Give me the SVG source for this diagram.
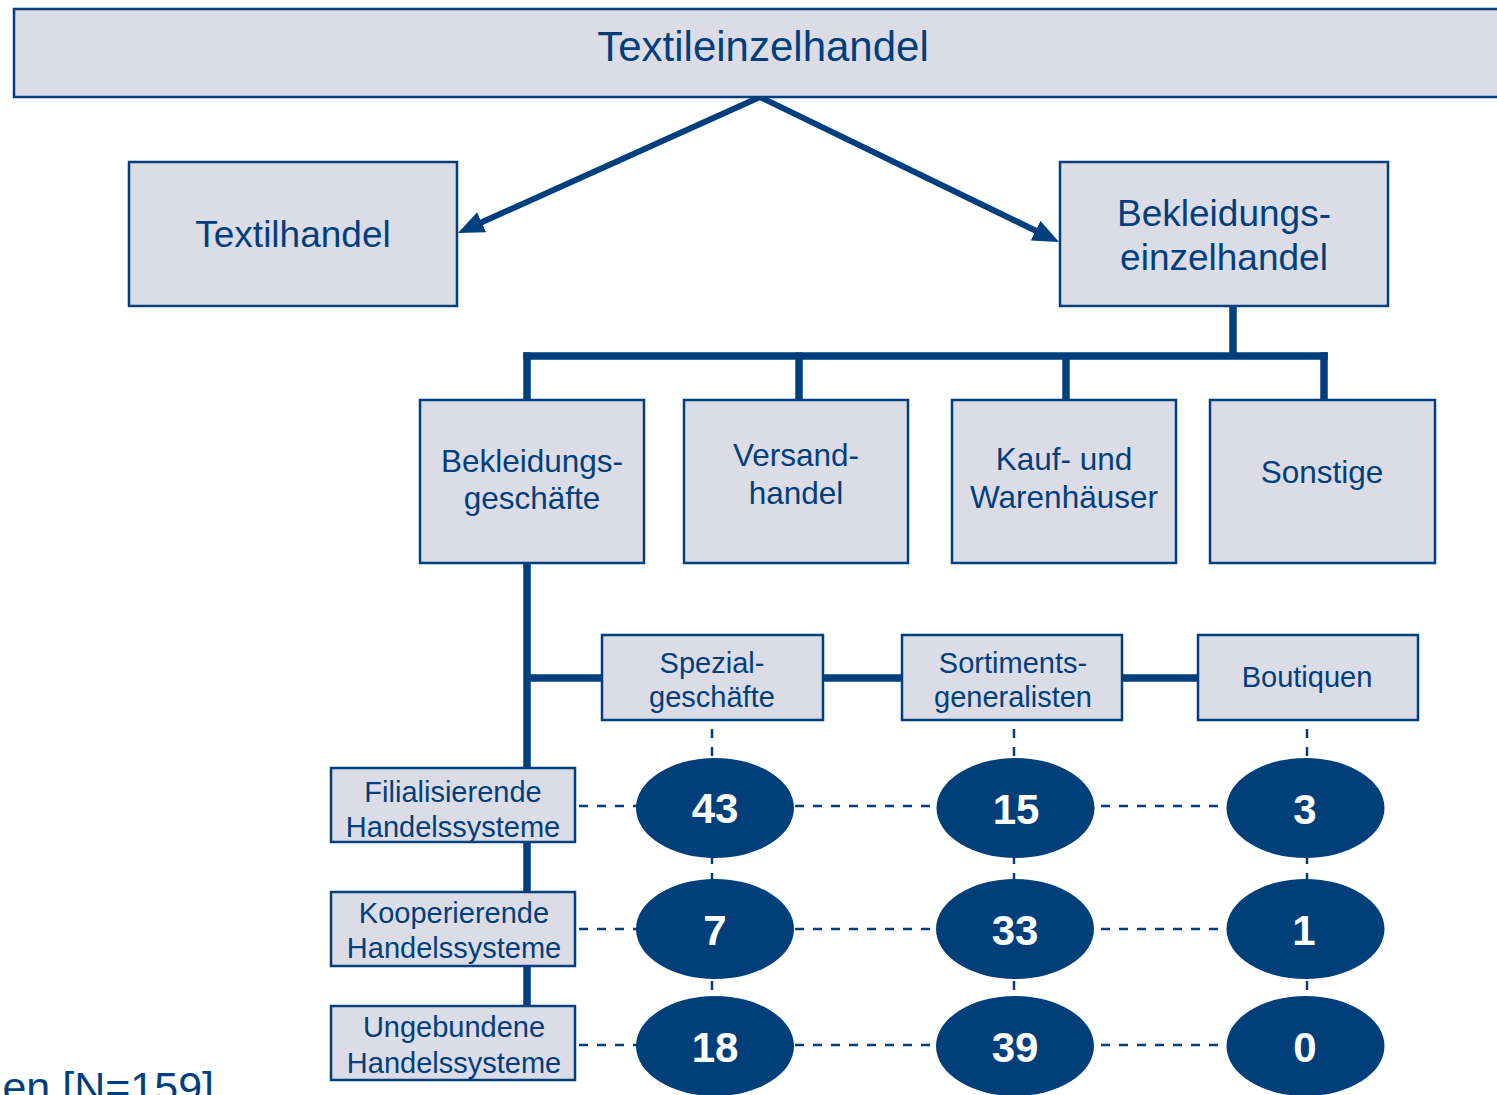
<svg xmlns="http://www.w3.org/2000/svg" width="1497" height="1095" viewBox="0 0 1497 1095">
<style>
.box{fill:#dcdce6;stroke:#003f7d;stroke-width:2.5}
.t{font-family:"Liberation Sans",Arial,sans-serif;fill:#003f7d;text-anchor:middle}
.t36{font-size:37px}
.t32{font-size:31.5px}
.t29{font-size:29px}
.num{font-family:"Liberation Sans",Arial,sans-serif;font-weight:bold;font-size:42px;fill:#ffffff;text-anchor:middle}
.ell{fill:#003f7a}
.thick{stroke:#003f7d;stroke-width:7.5;fill:none}
.arr{stroke:#003f7d;stroke-width:6;fill:none;marker-end:url(#ah)}
.dash{stroke:#003f7d;stroke-width:2.5;stroke-dasharray:9 9;fill:none}
</style>
<defs>
<marker id="ah" markerUnits="userSpaceOnUse" markerWidth="30" markerHeight="26" refX="6" refY="11" orient="auto">
<path d="M0,0 L26,11 L0,22 z" fill="#003f7d"/>
</marker>
</defs>
<rect width="1497" height="1095" fill="#ffffff"/>
<g id="connectors">
<line class="arr" x1="760" y1="97" x2="476.2" y2="224.8"/>
<line class="arr" x1="760" y1="97" x2="1041" y2="233.3"/>
<line class="thick" x1="1233" y1="306" x2="1233" y2="356"/>
<line class="thick" x1="523.3" y1="356" x2="1327.7" y2="356"/>
<line class="thick" x1="527" y1="352.3" x2="527" y2="400"/>
<line class="thick" x1="799" y1="352.3" x2="799" y2="400"/>
<line class="thick" x1="1066" y1="356" x2="1066" y2="400"/>
<line class="thick" x1="1324" y1="352.3" x2="1324" y2="400"/>
<line class="thick" x1="527" y1="563" x2="527" y2="1007"/>
<line class="thick" x1="527" y1="678" x2="602" y2="678"/>
<line class="thick" x1="823" y1="678" x2="902" y2="678"/>
<line class="thick" x1="1122" y1="678" x2="1198" y2="678"/>
<line class="dash" x1="712" y1="729" x2="712" y2="1046"/>
<line class="dash" x1="1014" y1="729" x2="1014" y2="1046"/>
<line class="dash" x1="1307" y1="729" x2="1307" y2="1046"/>
<line class="dash" x1="579" y1="806" x2="1228" y2="806"/>
<line class="dash" x1="579" y1="929" x2="1228" y2="929"/>
<line class="dash" x1="579" y1="1045" x2="1228" y2="1045"/>
</g>
<g id="n-textileinzelhandel">
<rect class="box" x="14" y="9" width="1500" height="88"/>
<text class="t" x="763" y="61" font-size="42">Textileinzelhandel</text>
</g>
<g id="n-textilhandel">
<rect class="box" x="129" y="162" width="328" height="144"/>
<text class="t t36" x="293" y="247">Textilhandel</text>
</g>
<g id="n-bekleidungseinzelhandel">
<rect class="box" x="1060" y="162" width="328" height="144"/>
<text class="t t36" x="1224" y="226">Bekleidungs-</text>
<text class="t t36" x="1224" y="270">einzelhandel</text>
</g>
<g id="n-bekleidungsgeschaefte">
<rect class="box" x="420" y="400" width="224" height="163"/>
<text class="t t32" x="532" y="472">Bekleidungs-</text>
<text class="t t32" x="532" y="509">geschäfte</text>
</g>
<g id="n-versandhandel">
<rect class="box" x="684" y="400" width="224" height="163"/>
<text class="t t32" x="796" y="466">Versand-</text>
<text class="t t32" x="796" y="504">handel</text>
</g>
<g id="n-kaufundwarenhaeuser">
<rect class="box" x="952" y="400" width="224" height="163"/>
<text class="t t32" x="1064" y="470">Kauf- und</text>
<text class="t t32" x="1064" y="508">Warenhäuser</text>
</g>
<g id="n-sonstige">
<rect class="box" x="1210" y="400" width="225" height="163"/>
<text class="t t32" x="1322" y="483">Sonstige</text>
</g>
<g id="n-spezialgeschaefte">
<rect class="box" x="602" y="635" width="221" height="85"/>
<text class="t t29" x="712" y="673">Spezial-</text>
<text class="t t29" x="712" y="707">geschäfte</text>
</g>
<g id="n-sortimentsgeneralisten">
<rect class="box" x="902" y="635" width="220" height="85"/>
<text class="t t29" x="1013" y="673">Sortiments-</text>
<text class="t t29" x="1013" y="707">generalisten</text>
</g>
<g id="n-boutiquen">
<rect class="box" x="1198" y="635" width="220" height="85"/>
<text class="t t29" x="1307" y="687">Boutiquen</text>
</g>
<g id="n-filialisierende">
<rect class="box" x="331" y="768" width="244" height="74"/>
<text class="t t29" x="453" y="802">Filialisierende</text>
<text class="t t29" x="453" y="837">Handelssysteme</text>
</g>
<g id="n-kooperierende">
<rect class="box" x="331" y="892" width="244" height="74"/>
<text class="t t29" x="454" y="923">Kooperierende</text>
<text class="t t29" x="454" y="958">Handelssysteme</text>
</g>
<g id="n-ungebundene">
<rect class="box" x="331" y="1006" width="244" height="74"/>
<text class="t t29" x="454" y="1037">Ungebundene</text>
<text class="t t29" x="454" y="1073">Handelssysteme</text>
</g>
<g id="n-v43"><ellipse class="ell" cx="715" cy="808" rx="79" ry="50"/><text class="num" x="715" y="823">43</text></g>
<g id="n-v15"><ellipse class="ell" cx="1015.5" cy="808" rx="79" ry="50"/><text class="num" x="1016" y="824">15</text></g>
<g id="n-v3"><ellipse class="ell" cx="1305.5" cy="808" rx="79" ry="50"/><text class="num" x="1305" y="824">3</text></g>
<g id="n-v7"><ellipse class="ell" cx="715" cy="929" rx="79" ry="50"/><text class="num" x="715" y="945">7</text></g>
<g id="n-v33"><ellipse class="ell" cx="1015" cy="929" rx="79" ry="50"/><text class="num" x="1015" y="945">33</text></g>
<g id="n-v1"><ellipse class="ell" cx="1305.5" cy="929" rx="79" ry="50"/><text class="num" x="1304" y="945">1</text></g>
<g id="n-v18"><ellipse class="ell" cx="715" cy="1046" rx="79" ry="50"/><text class="num" x="715" y="1062">18</text></g>
<g id="n-v39"><ellipse class="ell" cx="1015" cy="1046" rx="79" ry="50"/><text class="num" x="1015" y="1062">39</text></g>
<g id="n-v0"><ellipse class="ell" cx="1305.5" cy="1046" rx="79" ry="50"/><text class="num" x="1305" y="1062">0</text></g>
<text class="t" x="214" y="1102" font-size="43" style="text-anchor:end">uen [N=159]</text>
</svg>
